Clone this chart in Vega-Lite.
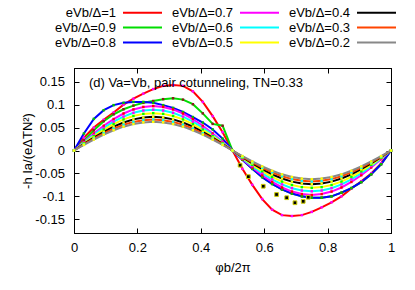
{
"$schema":"https://vega.github.io/schema/vega-lite/v6.json",
"width":317,"height":165,
"autosize":"none",
"padding":{"left":74,"top":68,"right":24,"bottom":57},
"background":"white",
"config":{
 "font":"Liberation Sans",
 "view":{"stroke":"black","strokeWidth":1},
 "axis":{"grid":false,"domainColor":"black","tickColor":"black","labelColor":"black","titleColor":"black","labelFontSize":13,"titleFontSize":13,"titleFontWeight":"normal","labelFont":"Liberation Sans","titleFont":"Liberation Sans","tickSize":-5,"domainWidth":1,"tickWidth":1,"labelFlush":false}
},
"datasets":{
"curves":[
{"s":"1","x":0,"y":0},{"s":"1","x":0.03125,"y":0.028},{"s":"1","x":0.0625,"y":0.05},{"s":"1","x":0.09375,"y":0.067},{"s":"1","x":0.125,"y":0.083},{"s":"1","x":0.15625,"y":0.1},{"s":"1","x":0.1875,"y":0.113},{"s":"1","x":0.21875,"y":0.124},{"s":"1","x":0.25,"y":0.134},{"s":"1","x":0.28125,"y":0.141},{"s":"1","x":0.3125,"y":0.143},{"s":"1","x":0.34375,"y":0.141},{"s":"1","x":0.375,"y":0.129},{"s":"1","x":0.40625,"y":0.106},{"s":"1","x":0.4375,"y":0.075},{"s":"1","x":0.46875,"y":0.04},{"s":"1","x":0.5,"y":0},{"s":"1","x":0.53125,"y":-0.04},{"s":"1","x":0.5625,"y":-0.075},{"s":"1","x":0.59375,"y":-0.106},{"s":"1","x":0.625,"y":-0.129},{"s":"1","x":0.65625,"y":-0.141},{"s":"1","x":0.6875,"y":-0.143},{"s":"1","x":0.71875,"y":-0.141},{"s":"1","x":0.75,"y":-0.134},{"s":"1","x":0.78125,"y":-0.124},{"s":"1","x":0.8125,"y":-0.113},{"s":"1","x":0.84375,"y":-0.1},{"s":"1","x":0.875,"y":-0.083},{"s":"1","x":0.90625,"y":-0.067},{"s":"1","x":0.9375,"y":-0.05},{"s":"1","x":0.96875,"y":-0.028},{"s":"1","x":1,"y":0},
{"s":"0.9","x":0,"y":0},{"s":"0.9","x":0.03125,"y":0.022},{"s":"0.9","x":0.0625,"y":0.044},{"s":"0.9","x":0.09375,"y":0.064},{"s":"0.9","x":0.125,"y":0.079},{"s":"0.9","x":0.15625,"y":0.09},{"s":"0.9","x":0.1875,"y":0.098},{"s":"0.9","x":0.21875,"y":0.104},{"s":"0.9","x":0.25,"y":0.108},{"s":"0.9","x":0.28125,"y":0.112},{"s":"0.9","x":0.3125,"y":0.114},{"s":"0.9","x":0.34375,"y":0.111},{"s":"0.9","x":0.375,"y":0.101},{"s":"0.9","x":0.40625,"y":0.081},{"s":"0.9","x":0.4375,"y":0.058},{"s":"0.9","x":0.46875,"y":0.054},{"s":"0.9","x":0.5,"y":0},{"s":"0.9","x":0.53125,"y":-0.02},{"s":"0.9","x":0.5625,"y":-0.04},{"s":"0.9","x":0.59375,"y":-0.058},{"s":"0.9","x":0.625,"y":-0.073},{"s":"0.9","x":0.65625,"y":-0.085},{"s":"0.9","x":0.6875,"y":-0.094},{"s":"0.9","x":0.71875,"y":-0.1},{"s":"0.9","x":0.75,"y":-0.103},{"s":"0.9","x":0.78125,"y":-0.103},{"s":"0.9","x":0.8125,"y":-0.1},{"s":"0.9","x":0.84375,"y":-0.092},{"s":"0.9","x":0.875,"y":-0.082},{"s":"0.9","x":0.90625,"y":-0.069},{"s":"0.9","x":0.9375,"y":-0.052},{"s":"0.9","x":0.96875,"y":-0.03},{"s":"0.9","x":1,"y":0},
{"s":"0.8","x":0,"y":0},{"s":"0.8","x":0.03125,"y":0.037},{"s":"0.8","x":0.0625,"y":0.069},{"s":"0.8","x":0.09375,"y":0.088},{"s":"0.8","x":0.125,"y":0.099},{"s":"0.8","x":0.15625,"y":0.104},{"s":"0.8","x":0.1875,"y":0.106},{"s":"0.8","x":0.21875,"y":0.106},{"s":"0.8","x":0.25,"y":0.104},{"s":"0.8","x":0.28125,"y":0.099},{"s":"0.8","x":0.3125,"y":0.093},{"s":"0.8","x":0.34375,"y":0.084},{"s":"0.8","x":0.375,"y":0.073},{"s":"0.8","x":0.40625,"y":0.061},{"s":"0.8","x":0.4375,"y":0.046},{"s":"0.8","x":0.46875,"y":0.026},{"s":"0.8","x":0.5,"y":0},{"s":"0.8","x":0.53125,"y":-0.02},{"s":"0.8","x":0.5625,"y":-0.04},{"s":"0.8","x":0.59375,"y":-0.058},{"s":"0.8","x":0.625,"y":-0.073},{"s":"0.8","x":0.65625,"y":-0.085},{"s":"0.8","x":0.6875,"y":-0.094},{"s":"0.8","x":0.71875,"y":-0.1},{"s":"0.8","x":0.75,"y":-0.103},{"s":"0.8","x":0.78125,"y":-0.103},{"s":"0.8","x":0.8125,"y":-0.1},{"s":"0.8","x":0.84375,"y":-0.092},{"s":"0.8","x":0.875,"y":-0.082},{"s":"0.8","x":0.90625,"y":-0.069},{"s":"0.8","x":0.9375,"y":-0.052},{"s":"0.8","x":0.96875,"y":-0.03},{"s":"0.8","x":1,"y":0},
{"s":"0.7","x":0,"y":0},{"s":"0.7","x":0.03125,"y":0.0189},{"s":"0.7","x":0.0625,"y":0.0371},{"s":"0.7","x":0.09375,"y":0.0539},{"s":"0.7","x":0.125,"y":0.0686},{"s":"0.7","x":0.15625,"y":0.0807},{"s":"0.7","x":0.1875,"y":0.0896},{"s":"0.7","x":0.21875,"y":0.0951},{"s":"0.7","x":0.25,"y":0.097},{"s":"0.7","x":0.28125,"y":0.0951},{"s":"0.7","x":0.3125,"y":0.0896},{"s":"0.7","x":0.34375,"y":0.0807},{"s":"0.7","x":0.375,"y":0.0686},{"s":"0.7","x":0.40625,"y":0.0539},{"s":"0.7","x":0.4375,"y":0.0371},{"s":"0.7","x":0.46875,"y":0.0189},{"s":"0.7","x":0.5,"y":0},{"s":"0.7","x":0.53125,"y":-0.0189},{"s":"0.7","x":0.5625,"y":-0.0371},{"s":"0.7","x":0.59375,"y":-0.0539},{"s":"0.7","x":0.625,"y":-0.0686},{"s":"0.7","x":0.65625,"y":-0.0807},{"s":"0.7","x":0.6875,"y":-0.0896},{"s":"0.7","x":0.71875,"y":-0.0951},{"s":"0.7","x":0.75,"y":-0.097},{"s":"0.7","x":0.78125,"y":-0.0951},{"s":"0.7","x":0.8125,"y":-0.0896},{"s":"0.7","x":0.84375,"y":-0.0807},{"s":"0.7","x":0.875,"y":-0.0686},{"s":"0.7","x":0.90625,"y":-0.0539},{"s":"0.7","x":0.9375,"y":-0.0371},{"s":"0.7","x":0.96875,"y":-0.0189},{"s":"0.7","x":1,"y":0},
{"s":"0.6","x":0,"y":0},{"s":"0.6","x":0.03125,"y":0.0174},{"s":"0.6","x":0.0625,"y":0.0341},{"s":"0.6","x":0.09375,"y":0.0494},{"s":"0.6","x":0.125,"y":0.0629},{"s":"0.6","x":0.15625,"y":0.074},{"s":"0.6","x":0.1875,"y":0.0822},{"s":"0.6","x":0.21875,"y":0.0873},{"s":"0.6","x":0.25,"y":0.089},{"s":"0.6","x":0.28125,"y":0.0873},{"s":"0.6","x":0.3125,"y":0.0822},{"s":"0.6","x":0.34375,"y":0.074},{"s":"0.6","x":0.375,"y":0.0629},{"s":"0.6","x":0.40625,"y":0.0494},{"s":"0.6","x":0.4375,"y":0.0341},{"s":"0.6","x":0.46875,"y":0.0174},{"s":"0.6","x":0.5,"y":0},{"s":"0.6","x":0.53125,"y":-0.0174},{"s":"0.6","x":0.5625,"y":-0.0341},{"s":"0.6","x":0.59375,"y":-0.0494},{"s":"0.6","x":0.625,"y":-0.0629},{"s":"0.6","x":0.65625,"y":-0.074},{"s":"0.6","x":0.6875,"y":-0.0822},{"s":"0.6","x":0.71875,"y":-0.0873},{"s":"0.6","x":0.75,"y":-0.089},{"s":"0.6","x":0.78125,"y":-0.0873},{"s":"0.6","x":0.8125,"y":-0.0822},{"s":"0.6","x":0.84375,"y":-0.074},{"s":"0.6","x":0.875,"y":-0.0629},{"s":"0.6","x":0.90625,"y":-0.0494},{"s":"0.6","x":0.9375,"y":-0.0341},{"s":"0.6","x":0.96875,"y":-0.0174},{"s":"0.6","x":1,"y":0},
{"s":"0.5","x":0,"y":0},{"s":"0.5","x":0.03125,"y":0.0159},{"s":"0.5","x":0.0625,"y":0.0312},{"s":"0.5","x":0.09375,"y":0.0453},{"s":"0.5","x":0.125,"y":0.0576},{"s":"0.5","x":0.15625,"y":0.0678},{"s":"0.5","x":0.1875,"y":0.0753},{"s":"0.5","x":0.21875,"y":0.0799},{"s":"0.5","x":0.25,"y":0.0815},{"s":"0.5","x":0.28125,"y":0.0799},{"s":"0.5","x":0.3125,"y":0.0753},{"s":"0.5","x":0.34375,"y":0.0678},{"s":"0.5","x":0.375,"y":0.0576},{"s":"0.5","x":0.40625,"y":0.0453},{"s":"0.5","x":0.4375,"y":0.0312},{"s":"0.5","x":0.46875,"y":0.0159},{"s":"0.5","x":0.5,"y":0},{"s":"0.5","x":0.53125,"y":-0.0159},{"s":"0.5","x":0.5625,"y":-0.0312},{"s":"0.5","x":0.59375,"y":-0.0453},{"s":"0.5","x":0.625,"y":-0.0576},{"s":"0.5","x":0.65625,"y":-0.0678},{"s":"0.5","x":0.6875,"y":-0.0753},{"s":"0.5","x":0.71875,"y":-0.0799},{"s":"0.5","x":0.75,"y":-0.0815},{"s":"0.5","x":0.78125,"y":-0.0799},{"s":"0.5","x":0.8125,"y":-0.0753},{"s":"0.5","x":0.84375,"y":-0.0678},{"s":"0.5","x":0.875,"y":-0.0576},{"s":"0.5","x":0.90625,"y":-0.0453},{"s":"0.5","x":0.9375,"y":-0.0312},{"s":"0.5","x":0.96875,"y":-0.0159},{"s":"0.5","x":1,"y":0},
{"s":"0.4","x":0,"y":0},{"s":"0.4","x":0.03125,"y":0.0143},{"s":"0.4","x":0.0625,"y":0.0281},{"s":"0.4","x":0.09375,"y":0.0408},{"s":"0.4","x":0.125,"y":0.052},{"s":"0.4","x":0.15625,"y":0.0611},{"s":"0.4","x":0.1875,"y":0.0679},{"s":"0.4","x":0.21875,"y":0.0721},{"s":"0.4","x":0.25,"y":0.0735},{"s":"0.4","x":0.28125,"y":0.0721},{"s":"0.4","x":0.3125,"y":0.0679},{"s":"0.4","x":0.34375,"y":0.0611},{"s":"0.4","x":0.375,"y":0.052},{"s":"0.4","x":0.40625,"y":0.0408},{"s":"0.4","x":0.4375,"y":0.0281},{"s":"0.4","x":0.46875,"y":0.0143},{"s":"0.4","x":0.5,"y":0},{"s":"0.4","x":0.53125,"y":-0.0143},{"s":"0.4","x":0.5625,"y":-0.0281},{"s":"0.4","x":0.59375,"y":-0.0408},{"s":"0.4","x":0.625,"y":-0.052},{"s":"0.4","x":0.65625,"y":-0.0611},{"s":"0.4","x":0.6875,"y":-0.0679},{"s":"0.4","x":0.71875,"y":-0.0721},{"s":"0.4","x":0.75,"y":-0.0735},{"s":"0.4","x":0.78125,"y":-0.0721},{"s":"0.4","x":0.8125,"y":-0.0679},{"s":"0.4","x":0.84375,"y":-0.0611},{"s":"0.4","x":0.875,"y":-0.052},{"s":"0.4","x":0.90625,"y":-0.0408},{"s":"0.4","x":0.9375,"y":-0.0281},{"s":"0.4","x":0.96875,"y":-0.0143},{"s":"0.4","x":1,"y":0},
{"s":"0.3","x":0,"y":0},{"s":"0.3","x":0.03125,"y":0.0132},{"s":"0.3","x":0.0625,"y":0.0258},{"s":"0.3","x":0.09375,"y":0.0375},{"s":"0.3","x":0.125,"y":0.0477},{"s":"0.3","x":0.15625,"y":0.0561},{"s":"0.3","x":0.1875,"y":0.0624},{"s":"0.3","x":0.21875,"y":0.0662},{"s":"0.3","x":0.25,"y":0.0675},{"s":"0.3","x":0.28125,"y":0.0662},{"s":"0.3","x":0.3125,"y":0.0624},{"s":"0.3","x":0.34375,"y":0.0561},{"s":"0.3","x":0.375,"y":0.0477},{"s":"0.3","x":0.40625,"y":0.0375},{"s":"0.3","x":0.4375,"y":0.0258},{"s":"0.3","x":0.46875,"y":0.0132},{"s":"0.3","x":0.5,"y":0},{"s":"0.3","x":0.53125,"y":-0.0132},{"s":"0.3","x":0.5625,"y":-0.0258},{"s":"0.3","x":0.59375,"y":-0.0375},{"s":"0.3","x":0.625,"y":-0.0477},{"s":"0.3","x":0.65625,"y":-0.0561},{"s":"0.3","x":0.6875,"y":-0.0624},{"s":"0.3","x":0.71875,"y":-0.0662},{"s":"0.3","x":0.75,"y":-0.0675},{"s":"0.3","x":0.78125,"y":-0.0662},{"s":"0.3","x":0.8125,"y":-0.0624},{"s":"0.3","x":0.84375,"y":-0.0561},{"s":"0.3","x":0.875,"y":-0.0477},{"s":"0.3","x":0.90625,"y":-0.0375},{"s":"0.3","x":0.9375,"y":-0.0258},{"s":"0.3","x":0.96875,"y":-0.0132},{"s":"0.3","x":1,"y":0},
{"s":"0.2","x":0,"y":0},{"s":"0.2","x":0.03125,"y":0.0122},{"s":"0.2","x":0.0625,"y":0.0239},{"s":"0.2","x":0.09375,"y":0.0347},{"s":"0.2","x":0.125,"y":0.0442},{"s":"0.2","x":0.15625,"y":0.052},{"s":"0.2","x":0.1875,"y":0.0577},{"s":"0.2","x":0.21875,"y":0.0613},{"s":"0.2","x":0.25,"y":0.0625},{"s":"0.2","x":0.28125,"y":0.0613},{"s":"0.2","x":0.3125,"y":0.0577},{"s":"0.2","x":0.34375,"y":0.052},{"s":"0.2","x":0.375,"y":0.0442},{"s":"0.2","x":0.40625,"y":0.0347},{"s":"0.2","x":0.4375,"y":0.0239},{"s":"0.2","x":0.46875,"y":0.0122},{"s":"0.2","x":0.5,"y":0},{"s":"0.2","x":0.53125,"y":-0.0122},{"s":"0.2","x":0.5625,"y":-0.0239},{"s":"0.2","x":0.59375,"y":-0.0347},{"s":"0.2","x":0.625,"y":-0.0442},{"s":"0.2","x":0.65625,"y":-0.052},{"s":"0.2","x":0.6875,"y":-0.0577},{"s":"0.2","x":0.71875,"y":-0.0613},{"s":"0.2","x":0.75,"y":-0.0625},{"s":"0.2","x":0.78125,"y":-0.0613},{"s":"0.2","x":0.8125,"y":-0.0577},{"s":"0.2","x":0.84375,"y":-0.052},{"s":"0.2","x":0.875,"y":-0.0442},{"s":"0.2","x":0.90625,"y":-0.0347},{"s":"0.2","x":0.9375,"y":-0.0239},{"s":"0.2","x":0.96875,"y":-0.0122},{"s":"0.2","x":1,"y":0}
],
"extra":[
{"x":0.524,"y":-0.032},{"x":0.55,"y":-0.057},{"x":0.597,"y":-0.078},{"x":0.639,"y":-0.096},{"x":0.671,"y":-0.103},{"x":0.697,"y":-0.114},{"x":0.723,"y":-0.111},{"x":0.739,"y":-0.102}
]
},
"layer":[
{
 "data":{"name":"curves"},
 "mark":{"type":"line","strokeWidth":2},
 "encoding":{
  "x":{"field":"x","type":"quantitative","scale":{"domain":[0,1],"nice":false},
       "axis":{"values":[0,0.2,0.4,0.6,0.8,1],"labelExpr":"'' + datum.value","labelPadding":13.5,"title":"φb/2π","titlePadding":7}},
  "y":{"field":"y","type":"quantitative","scale":{"domain":[-0.18,0.18],"nice":false,"zero":false},
       "axis":{"values":[-0.15,-0.1,-0.05,0,0.05,0.1,0.15],"labelExpr":"'' + datum.value","labelPadding":14.5,"title":"-h Ia/(eΔTN²)","titlePadding":0}},
  "color":{"field":"s","type":"nominal",
   "scale":{"domain":["1","0.9","0.8","0.7","0.6","0.5","0.4","0.3","0.2"],"range":["#ff0000","#00dd00","#0000ff","#ff00ff","#00ffff","#ffff00","#000000","#ff4500","#888888"]},
   "legend":{"orient":"none","legendX":61,"legendY":-63,"columns":3,"title":null,"labelExpr":"'eVb/Δ=' + datum.label","symbolType":"M-3,0H3","symbolSize":169,"symbolStrokeWidth":2,"labelFontSize":13,"labelFont":"Liberation Sans","labelColor":"black","labelAlign":"right","labelOffset":-34,"rowPadding":0,"columnPadding":5,"padding":0}}
 }
},
{
 "data":{"name":"curves"},
 "mark":{"type":"point","shape":"square","filled":true,"size":6,"opacity":1},
 "encoding":{
  "x":{"field":"x","type":"quantitative","axis":null},
  "y":{"field":"y","type":"quantitative","axis":null},
  "color":{"field":"s","type":"nominal","legend":null,
   "scale":{"domain":["1","0.9","0.8","0.7","0.6","0.5","0.4","0.3","0.2"],"range":["#ff00ff","#8b1a1a","#00c000","#ff0000","#ff00ff","#00ff00","#ffff00","#00ffff","#ffff00"]}}
 }
},
{
 "data":{"name":"extra"},
 "mark":{"type":"point","shape":"square","filled":true,"size":14,"color":"black","stroke":"#d0d000","strokeWidth":1,"opacity":1},
 "encoding":{
  "x":{"field":"x","type":"quantitative","axis":{"orient":"top","labels":false,"title":null,"values":[0,0.2,0.4,0.6,0.8,1]}},
  "y":{"field":"y","type":"quantitative","axis":{"orient":"right","labels":false,"title":null,"values":[-0.15,-0.1,-0.05,0,0.05,0.1,0.15]}}
 }
},
{
 "data":{"values":[{"t":"(d) Va=Vb, pair cotunneling, TN=0.33"}]},
 "mark":{"type":"text","align":"left","baseline":"middle","fontSize":13,"color":"black","font":"Liberation Sans"},
 "encoding":{
  "x":{"datum":0.047,"type":"quantitative","axis":null},
  "y":{"datum":0.148,"type":"quantitative","axis":null},
  "text":{"field":"t"}
 }
}
],
"resolve":{"scale":{"color":"independent"},"axis":{"x":"independent","y":"independent"}}
}
